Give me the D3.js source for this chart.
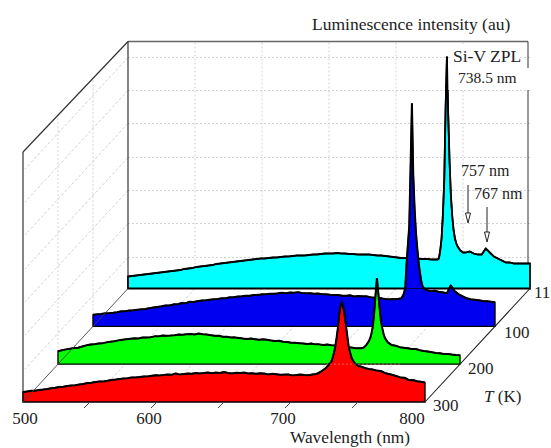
<!DOCTYPE html>
<html><head><meta charset="utf-8">
<script src="https://cdnjs.cloudflare.com/ajax/libs/d3/7.8.5/d3.min.js"></script>
<style>
html,body{margin:0;padding:0;background:#fff}
svg{display:block}
text{font-family:"Liberation Serif","Times New Roman",serif;fill:#222}
</style></head><body>
<svg id="c" width="551" height="448"></svg>
<script>
const wavelengths=[
500,503,506,509,512,515,518,521,524,527,530,533,536,539,542,
545,548,551,554,557,560,563,566,569,572,575,578,581,584,587,
590,593,596,599,602,605,608,611,614,617,620,623,626,629,632,
635,638,641,644,647,650,653,656,659,662,665,668,671,674,677,
680,683,686,689,692,695,698,701,704,707,710,713,716,719,722,
724,726,728,730,
731,732,733,734,735,736,737,738,739,740,741,742,743,744,745,746,747,748,749,750,
752,755,758,761,764,767,770,773,776,779,782,785,788,791,794,797,800];
const temperatures=[11,100,200,300];
const intensity11=[
12,12.5,13,13.5,14,14.5,15,15.5,16,16.5,17,17.5,18,18.5,19.5,
20,20.5,21.5,22,22.5,23,23.5,24.5,25,25.5,26,26.5,27,27.5,28,
28.5,29,29.5,30,30,30.5,31,31,31.5,32,32,32.5,33,33,33,
33.5,34,34,34.5,35,35,35,35.5,35,35,34.5,34.5,34,34,34,
34,33.5,33,33,32.5,32,31.5,31,30.5,30.5,30,30,30,29.5,29.5,
29.5,29,29,29,
29,30,38,50,74,108,180,232,172,126,92,72,58,50,45,42,40,38,37,36,
36,37,35,34,34,40,36,32,30,28,26,26,25,25,25,25,25];
const intensity100=[
11.5,12,12.4,13,13.2,13.6,14.2,15,15.2,15.8,16,16.5,17,17.4,18.2,
18.8,19.4,20,20.8,20.8,22,22,23.4,23,24.6,24.4,25.2,25.8,26,26.6,
27,27.4,28,28,29,29.2,29.8,30,30.6,30.6,31.4,31.4,32,32,32.6,
32.6,33,33.6,33,33.8,33.6,34.2,33.4,33,33.2,32.6,32.8,32,32,31.6,
31.4,31.4,30.6,30.6,31,29.8,30.4,30,30,29.2,28.6,28.6,27.8,27.2,27,
27.4,27.2,27.5,28,
30,33,38,63,82,100,160,223,152,118,94,78,64,54,45,40,38,37,36,36,
35,35.5,34.5,34,33,41,35,32,30,28,27,26.5,26,25.4,25.2,24.6,24];
const intensity200=[
13,14,14.8,15.5,16.2,16.4,17.6,18.8,19.6,19.8,20.6,20.8,21.8,22.4,23,
23.8,24.4,25,25.4,25.8,25.6,26.6,26.6,27,27.8,27.8,28.6,28.4,28.6,29,
29.6,29.4,30,30.2,29.6,30.6,30,29.6,29,28.4,28.4,27.4,27.4,26.6,26.8,
26.2,25.6,25.2,25.6,25,24.4,24.8,24.4,23.6,23.2,23.4,22.4,22.2,21.4,21.4,
21,20.6,20.2,20.6,19.8,19.8,19.2,19.6,19,18.6,18,17.6,17,16.6,16,
16,16,16.5,19,
21,23,26,31,38,52,70,86,72,56,43,36,30,26,24,22,21,20,19,19,
18.5,17,16.5,16,15.2,15.2,14,13.2,12.6,12,11.2,11,10.2,10.2,9.6,9.2,9];
const intensity300=[
10,10.6,11.2,11.2,12,12.4,13,13.8,14.2,15,15.2,16,16.6,16.8,17.6,
18,19,19.2,20,20.6,20.6,21.2,22,22.4,23,23.6,23.8,24.6,24.6,25,
25.6,25.6,26.2,26.8,26.6,27,27.6,27.2,28.6,27.4,28,28.6,28.2,29,28.6,
29,29.6,28.8,29.4,29,30,29,28.6,29.2,29,29.4,28.6,28.8,28.2,28.8,
28.4,27.6,28.2,27.8,27.2,27.4,27.6,26.6,27,27.6,27,26.8,27.6,28,30,
32,34,37,40,
44,49,55,64,74,88,96,100,95,87,77,66,56,50,45,42,40,38,37,36,
35.5,34,33,32.5,31.4,31,29,28,27,25.8,24.4,24.2,21.8,22,20.8,20.2,19.5];
const seriesValues=[intensity11,intensity100,intensity200,intensity300];
const seriesColors=["#00ffff","#0000f0","#00ff00","#ff0000"];
const xTicks=[500,600,700,800];
const xTickNudge=[2,-8,-8,-13];
const xMinor=[550,600,650,700,750];
const wallX=[550,600,650,700,750];
const wallY=[31,65,98,131,165,198,231];
const tTicks=[11,100,200,300];

const svg=d3.select("#c");
const x=d3.scaleLinear().domain([500,800]).range([23,425]);
const y=d3.scaleLinear().domain([0,250]).range([402,152]);
const dx=d3.scalePoint().domain(temperatures).range([105,0]);
const dy=d3.scalePoint().domain(temperatures).range([-113.5,0]);
const GRID="#d2d2d2", EDGE="#333";

function seg(g,x1,y1,x2,y2,s,w,dash){
  return g.append("line").attr("x1",x1).attr("y1",y1).attr("x2",x2).attr("y2",y2)
   .attr("stroke",s).attr("stroke-width",w).attr("stroke-dasharray",dash||null);
}
const gw=svg.append("g");
const D=dx(11),H=dy(11);
wallY.forEach(v=>seg(gw,x(500)+D,y(v)+H,x(800)+D,y(v)+H,GRID,1,"2 2"));
wallX.forEach(v=>seg(gw,x(v)+D,y(0)+H,x(v)+D,y(247)+H,GRID,1,"2 2"));
wallY.forEach(v=>seg(gw,x(500)+D,y(v)+H,x(500)+2,y(v)-2,GRID,1,"3 2"));
[100,200].forEach(t=>seg(gw,x(500)+dx(t),y(0)+dy(t),x(500)+dx(t),y(250)+dy(t)+2,GRID,1,"2 2"));
wallX.forEach(v=>seg(gw,x(v)+D,y(0)+H,x(v),y(0),GRID,1,"3 2"));
seg(gw,x(500)+D,y(247)+H,x(800)+D-2,y(247)+H,"#666",1.4);
seg(gw,x(800)+D-2,y(247)+H,x(800)+D-2,y(0)+H,"#555",1.2);
seg(gw,x(500)+D,y(247)+H,x(500)+D,y(0)+H,EDGE,1.2);
seg(gw,x(500),y(250),x(500)+D,y(247)+H,EDGE,1.2);
seg(gw,x(500),y(250),x(500),y(0),EDGE,1.2);

const pts=v=>wavelengths.map((w,i)=>[w,v[i]]);
const area=d3.area().x(d=>x(d[0])).y0(y(0)).y1(d=>y(d[1]));
const line=d3.line().x(d=>x(d[0])).y(d=>y(d[1]));
temperatures.forEach((t,i)=>{
  const g=svg.append("g").attr("transform",`translate(${dx(t)},${dy(t)})`);
  g.append("path").attr("d",area(pts(seriesValues[i])))
   .attr("fill",seriesColors[i]).attr("stroke","#000").attr("stroke-width",i==0?1.8:1.4);
  g.append("path").attr("d",line(pts(seriesValues[i]))).attr("fill","none")
   .attr("stroke","#000").attr("stroke-width",i==0?1.7:2).attr("stroke-linejoin","bevel");
});
const go=svg.append("g");
seg(go,x(500)+D,y(0)+H,x(500),y(0),"#444",0.9);
seg(go,x(800)+D,y(0)+H,x(800),y(0),"#222",1.1);
seg(go,x(700)+D,y(0)+H,x(800)+D-70,y(0)+H,"#000",0.7);
seg(go,x(700)+dx(200),y(0)+dy(200),x(800)+dx(200)-60,y(0)+dy(200),"#e88",0.6,"2 2");
xMinor.forEach(v=>seg(go,x(v)-1,403,x(v)-6,408,"#444",1));
svg.append("rect").attr("x",450).attr("y",44).attr("width",68).attr("height",24).attr("fill","#fff");
svg.append("rect").attr("x",448.5).attr("y",68).attr("width",80.5).attr("height",22).attr("fill","#fff");

function tx(s,xp,yp,fs,anchor){
  return svg.append("text").attr("x",xp).attr("y",yp).attr("font-size",fs).attr("text-anchor",anchor||"start").text(s);
}
xTicks.forEach((v,i)=>tx(v,x(v)+xTickNudge[i],424,17,"middle"));
tx("Wavelength (nm)",350,443,17.3,"middle");
tx("Luminescence intensity (au)",312,30,17.5);
tx("Si-V ZPL",453,62,17.5);
tx("738.5 nm",458,83,15.5);
tx("757 nm",461,176,16);
tx("767 nm",474,199,16);
const tPos={11:[534,298],100:[504,338],200:[468,374],300:[433,411]};
tTicks.forEach(t=>tx(t,tPos[t][0],tPos[t][1],17));
const tt=tx("",484,402,17);
tt.append("tspan").attr("font-style","italic").text("T");
tt.append("tspan").text(" (K)");
[[468,185,213,223],[487,207,232,242]].forEach(a=>{
  seg(svg,a[0],a[1],a[0],a[2],"#222",1);
  svg.append("path").attr("d",`M${a[0]-2.5},${a[2]}L${a[0]+2.5},${a[2]}L${a[0]},${a[3]}Z`)
   .attr("fill","#fff").attr("stroke","#222").attr("stroke-width",1);
});
</script>
</body></html>
